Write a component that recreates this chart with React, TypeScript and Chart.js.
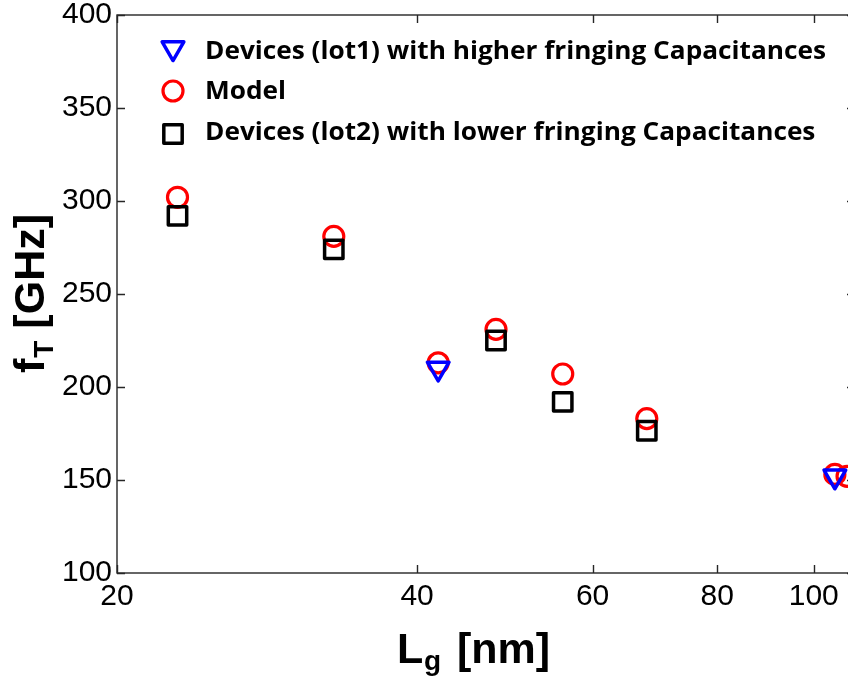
import { useEffect, useRef } from "react";
import { Chart, registerables } from "chart.js";
import { drawPoint } from "chart.js/helpers";

Chart.register(...registerables);

// Gate length (nm) and cut-off frequency (GHz)
const lgModel = [23, 33, 42, 48, 56, 68, 105, 108];
const ftModel = [302, 281, 213, 231, 207, 183, 153, 152];

const lgLot1 = [42, 105];
const ftLot1 = [210, 152];

const lgLot2 = [23, 33, 48, 56, 68];
const ftLot2 = [292, 274, 225, 192, 176.5];

const xTickValues = [20, 40, 60, 80, 100];
const yTickValues = [100, 150, 200, 250, 300, 350, 400];

const legendLabels = [
  "Devices (lot1) with higher fringing Capacitances",
  "Model",
  "Devices (lot2) with lower fringing Capacitances",
];

const AXIS_FONT = '"Liberation Sans", Arial, Helvetica, sans-serif';
const LEGEND_FONT = '"Open Sans", "Noto Sans", sans-serif';

const CANVAS_W = 862;
const CANVAS_H = 680;

const lot1Marker = { pointStyle: "triangle", rotation: 180, radius: 12.5, borderWidth: 3.5, color: "#0000ff" };
const modelMarker = { pointStyle: "circle", rotation: 0, radius: 10, borderWidth: 3.2, color: "#ff0000" };
const lot2Marker = { pointStyle: "rect", rotation: 0, radius: 13, borderWidth: 3.5, color: "#000000" };

const toPoints = (xs: number[], ys: number[]) => xs.map((x, i) => ({ x, y: ys[i] }));

// keep the plot area exactly where the layout padding puts it
const noLabelPadding = (s: any) => {
  s.paddingLeft = 0;
  s.paddingRight = 0;
  s.paddingTop = 0;
  s.paddingBottom = 0;
};

// Box with inward tick marks, axis titles with subscripts and the legend
const decorations = {
  id: "decorations",
  beforeDatasetsDraw(chart: any) {
    chart.ctx.lineJoin = "round";
  },
  afterDraw(chart: any) {
    const { ctx, chartArea: a, scales } = chart;
    ctx.save();

    // frame
    ctx.lineJoin = "miter";
    ctx.strokeStyle = "#262626";
    ctx.lineWidth = 1.4;
    ctx.strokeRect(a.left, a.top, a.right - a.left, a.bottom - a.top);

    const tl = 8;
    ctx.beginPath();
    xTickValues.forEach((v) => {
      const px = Math.round(scales.x.getPixelForValue(v)) + 0.5;
      ctx.moveTo(px, a.bottom);
      ctx.lineTo(px, a.bottom - tl);
      ctx.moveTo(px, a.top);
      ctx.lineTo(px, a.top + tl);
    });
    yTickValues.forEach((v) => {
      const py = Math.round(scales.y.getPixelForValue(v)) + 0.5;
      ctx.moveTo(a.left, py);
      ctx.lineTo(a.left + tl, py);
      ctx.moveTo(a.right, py);
      ctx.lineTo(a.right - tl, py);
    });
    ctx.stroke();

    // x title: L_g [nm]
    ctx.fillStyle = "#000";
    ctx.textAlign = "left";
    ctx.textBaseline = "alphabetic";
    ctx.font = `bold 43px ${AXIS_FONT}`;
    ctx.fillText("L", 397, 663);
    ctx.font = `bold 28px ${AXIS_FONT}`;
    ctx.fillText("g", 424, 670);
    ctx.font = `bold 43px ${AXIS_FONT}`;
    ctx.fillText("[nm]", 457, 663);

    // y title: f_T [GHz]
    ctx.save();
    ctx.translate(44, 373);
    ctx.rotate(-Math.PI / 2);
    ctx.font = `bold 43px ${AXIS_FONT}`;
    ctx.fillText("f", 0, 0);
    const fW = ctx.measureText("f").width;
    ctx.font = `bold 28px ${AXIS_FONT}`;
    ctx.fillText("T", fW + 1, 9);
    const tW = ctx.measureText("T").width;
    ctx.font = `bold 43px ${AXIS_FONT}`;
    ctx.fillText(" [GHz]", fW + 1 + tW, 0);
    ctx.restore();

    // legend
    const markers = [lot1Marker, modelMarker, lot2Marker];
    const markerY = [48, 91, 134];
    const baselines = [59, 99, 140];
    ctx.lineJoin = "round";
    markers.forEach((m, i) => {
      ctx.strokeStyle = m.color;
      ctx.fillStyle = "rgba(0,0,0,0)";
      ctx.lineWidth = m.borderWidth;
      drawPoint(ctx, { pointStyle: m.pointStyle, rotation: m.rotation, radius: m.radius, borderWidth: m.borderWidth } as any, 173, markerY[i]);
    });
    ctx.fillStyle = "#000";
    ctx.font = `bold 25px ${LEGEND_FONT}`;
    const w0 = ctx.measureText(legendLabels[0]).width;
    const sx = 621 / w0;
    legendLabels.forEach((label, i) => {
      ctx.save();
      ctx.translate(205, baselines[i]);
      ctx.scale(sx, 1);
      ctx.fillText(label, 0, 0);
      ctx.restore();
    });

    ctx.restore();
  },
};

export default function App() {
  const ref = useRef<HTMLCanvasElement>(null);

  useEffect(() => {
    const canvas = ref.current;
    if (!canvas) return;
    const tickFont = { size: 30, family: AXIS_FONT, weight: "normal" as const };
    const chart = new Chart(canvas, {
      type: "scatter",
      data: {
        datasets: [
          {
            label: legendLabels[2],
            data: toPoints(lgLot2, ftLot2),
            pointStyle: lot2Marker.pointStyle as any,
            pointRadius: lot2Marker.radius,
            pointBorderWidth: lot2Marker.borderWidth,
            borderColor: lot2Marker.color,
            backgroundColor: "rgba(0,0,0,0)",
            clip: false as any,
          },
          {
            label: legendLabels[0],
            data: toPoints(lgLot1, ftLot1),
            pointStyle: lot1Marker.pointStyle as any,
            pointRotation: lot1Marker.rotation,
            pointRadius: lot1Marker.radius,
            pointBorderWidth: lot1Marker.borderWidth,
            borderColor: lot1Marker.color,
            backgroundColor: "rgba(0,0,0,0)",
            clip: false as any,
          },
          {
            label: legendLabels[1],
            data: toPoints(lgModel, ftModel),
            pointStyle: modelMarker.pointStyle as any,
            pointRadius: modelMarker.radius,
            pointBorderWidth: modelMarker.borderWidth,
            borderColor: modelMarker.color,
            backgroundColor: "rgba(0,0,0,0)",
            clip: false as any,
          },
        ],
      },
      options: {
        responsive: false,
        animation: false,
        events: [],
        layout: { autoPadding: false, padding: { left: 0, top: 15, right: 7, bottom: 0 } },
        plugins: {
          legend: { display: false },
          tooltip: { enabled: false },
          title: { display: false },
        },
        scales: {
          x: {
            type: "logarithmic",
            min: 20,
            max: 110,
            grid: { display: false, drawTicks: false },
            border: { display: false },
            ticks: {
              color: "#000",
              font: tickFont,
              padding: 6,
              autoSkip: false,
              maxRotation: 0,
              callback: (v: any) => String(v),
            },
            afterBuildTicks: (s: any) => {
              s.ticks = xTickValues.map((v) => ({ value: v }));
            },
            afterFit: (s: any) => {
              s.height = 107;
              noLabelPadding(s);
            },
          },
          y: {
            type: "linear",
            min: 100,
            max: 400,
            grid: { display: false, drawTicks: false },
            border: { display: false },
            ticks: {
              color: "#000",
              font: tickFont,
              padding: 5,
              stepSize: 50,
              autoSkip: false,
            },
            afterFit: (s: any) => {
              s.width = 117;
              noLabelPadding(s);
            },
          },
        },
      },
      plugins: [decorations],
    });
    return () => chart.destroy();
  }, []);

  return (
    <div
      style={{
        position: "fixed",
        left: 0,
        top: 0,
        width: 848,
        height: 680,
        overflow: "hidden",
        background: "#fff",
      }}
    >
      <canvas ref={ref} width={CANVAS_W} height={CANVAS_H} style={{ width: CANVAS_W, height: CANVAS_H, display: "block" }} />
    </div>
  );
}
